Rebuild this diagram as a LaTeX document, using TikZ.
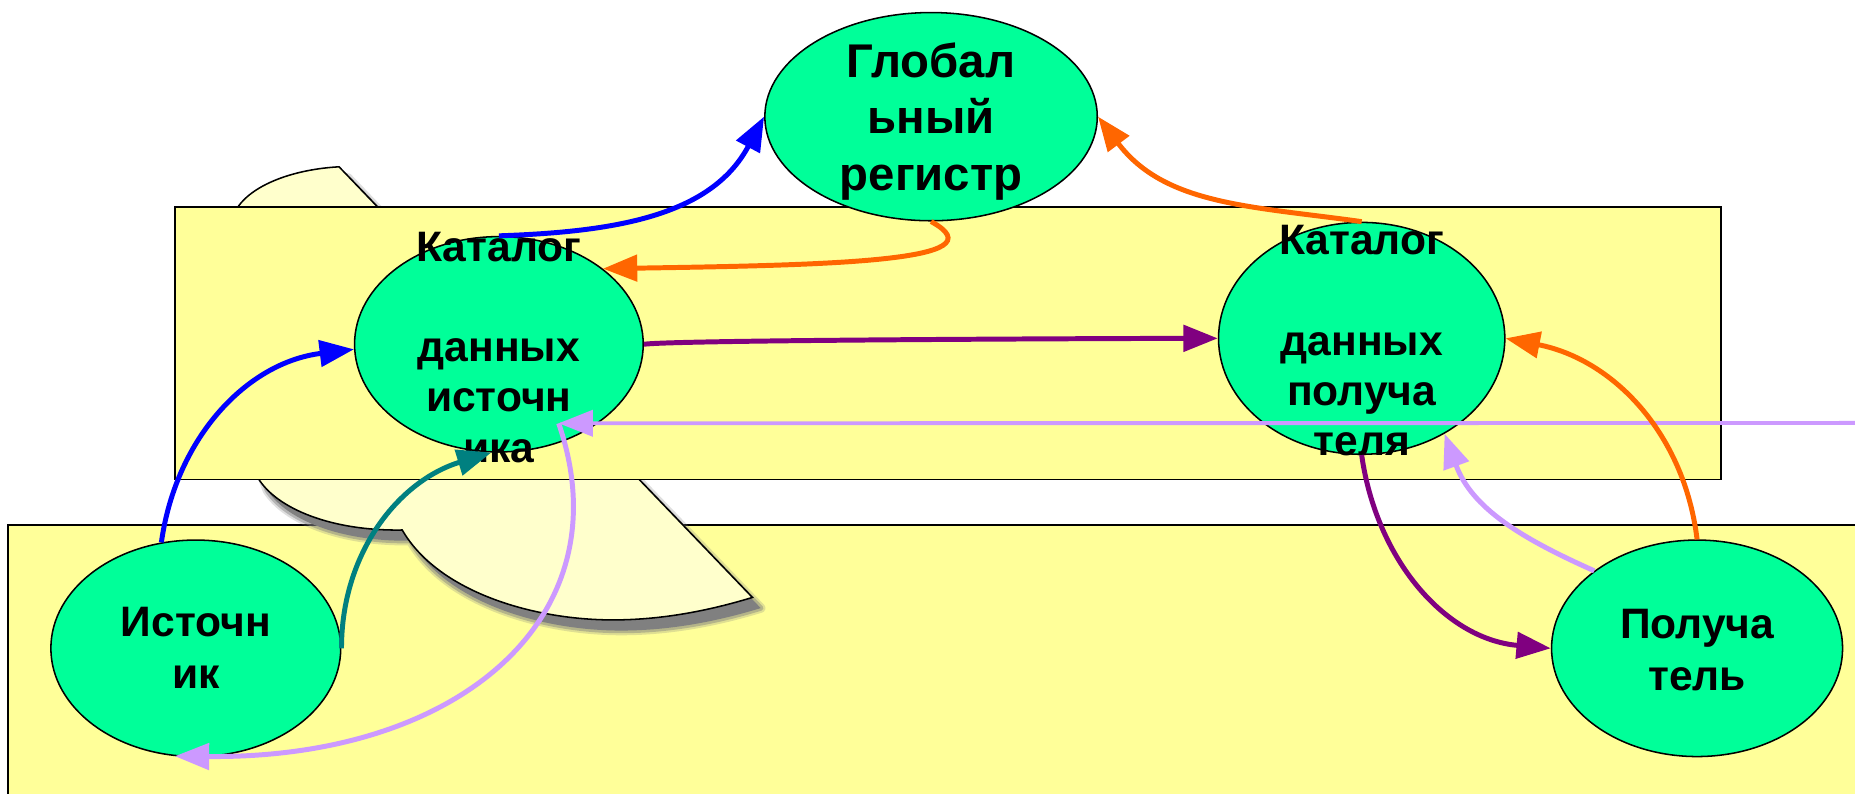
\documentclass[tikz,border=0pt]{standalone}
\usepackage{fontspec}
\setmainfont{Liberation Sans}
\usetikzlibrary{arrows.meta,shapes.geometric}
\definecolor{nodegreen}{HTML}{00FF99}
\definecolor{paleyellow}{HTML}{FFFF99}
\definecolor{beige}{HTML}{FFFFCC}
\definecolor{shadowgray}{HTML}{808080}
\definecolor{cblue}{HTML}{0000FF}
\definecolor{corange}{HTML}{FF6600}
\definecolor{cpurple}{HTML}{800080}
\definecolor{cteal}{HTML}{008080}
\definecolor{clav}{HTML}{CC99FF}
\newcommand\beigeoutline{(286.6,141) -- (636,505)
  .. controls (600,516) and (560,524) .. (518,524)
  .. controls (450,524) and (370,500) .. (340,448)
  .. controls (280,449) and (235,430) .. (219,405.5)
  .. controls (190,330) and (180,230) .. (201,175)
  .. controls (215,155) and (250,143) .. (286.6,141)
  -- cycle}
\begin{document}
\begin{tikzpicture}[x=1pt,y=-1pt,
  blob/.style={ellipse, draw=black, line width=1.3pt, fill=nodegreen, inner sep=0pt},
  txt/.style={align=center, inner sep=0pt, font=\bfseries\fontsize{36}{42.5}\selectfont},
  conn/.style={line width=4.2pt, -{Triangle[length=29pt,width=22pt]}},
  panel/.style={draw=black, line width=1.5pt, fill=paleyellow},
  softshadow/.style={shadowgray, line join=round, shift={(7,9)}}]

\useasboundingbox (0,0) rectangle (1568,671);
\fill[white] (0,0) rectangle (1568,671);

% lower panel
\path[panel] (7,443.8) rectangle (1600,700);

% beige shape with its shadow
\draw[softshadow, line width=8pt, opacity=0.25] \beigeoutline;
\draw[softshadow, line width=4.5pt, opacity=0.45] \beigeoutline;
\fill[softshadow] \beigeoutline;
\path[draw=black, line width=1.3pt, fill=beige] \beigeoutline;

% upper panel
\path[panel] (148,175) rectangle (1455,405.3);

% ellipses
\node[blob, minimum width=281pt, minimum height=176pt] (glob) at (787,98.6) {};
\node[blob, minimum width=244pt, minimum height=182pt] (srccat) at (421.7,291) {};
\node[blob, minimum width=242pt, minimum height=196pt] (rcvcat) at (1151,286) {};
\node[blob, minimum width=245pt, minimum height=183pt] (src) at (165.5,548) {};
\node[blob, minimum width=246pt, minimum height=183pt] (rcv) at (1434.5,548) {};

% texts
\node[txt, font=\bfseries\fontsize{40}{47.5}\selectfont, text depth=0pt] (globtext) at (glob.center) {Глобал\\ьный\\регистр};
\node[txt, yshift=-2.5pt] (srccattext) at (srccat.center) {Каталог\\\mbox{}\\данных\\источн\\ика};
\node[txt, yshift=-2pt] (rcvcattext) at (rcvcat.center) {Каталог\\\mbox{}\\данных\\получа\\теля};
\node[txt, font=\bfseries\fontsize{36}{44}\selectfont] (srctext) at (src.center) {Источн\\ик};
\node[txt, font=\bfseries\fontsize{36}{44}\selectfont, yshift=-1.5pt] (rcvtext) at (rcv.center) {Получа\\тель};

% free ends of the lavender connectors
\coordinate (lavsrc) at (1600,357.5);
\coordinate (lavtip) at (472.2,357.8);

% connectors
\draw[conn, clav, line width=3.3pt] (lavsrc) -- (lavtip);
\draw[conn, clav] (lavtip) .. controls +(56,162) and +(242.7,2.4) .. (src.259);
\draw[conn, clav] (rcv.143) to[out=156, in=-70] (rcvcat.-49);

\draw[conn, cblue] (src.108) to[out=82, in=187] (srccat.182);
\draw[conn, cblue] (srccat.north) to[out=2, in=242] (glob.west);

\draw[conn, corange] (glob.south) .. controls +(62,34) and +(191,-3) .. (srccat.36);
\draw[conn, corange] (rcvcat.north) to[out=172, in=-53] (glob.east);
\draw[conn, corange] (rcv.north) to[out=97, in=-11] (rcvcat.east);

\draw[conn, cpurple] (srccat.east) to[out=8, in=180, looseness=0.15] (rcvcat.west);
\draw[conn, cpurple] (rcvcat.south) to[out=-82, in=175] (rcv.west);

\draw[conn, cteal] (src.east) to[out=90, in=197] (srccat.266);
\end{tikzpicture}
\end{document}
